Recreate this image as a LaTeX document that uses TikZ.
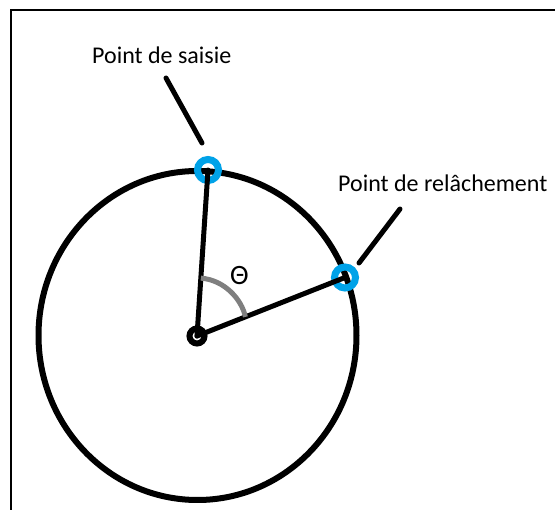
\documentclass[tikz,border=0pt]{standalone}
\usepackage{fontspec}
\setmainfont{Carlito}
\usepackage{tikz}
\usetikzlibrary{calc}
\definecolor{paintblue}{RGB}{0,162,232}
\definecolor{arcgray}{RGB}{127,127,127}

\begin{document}
\begin{tikzpicture}[
    x=1pt, y=-1pt,
    frame/.style={line width=2.5pt},
    wheel/.style={line width=6pt},
    arm/.style={line width=5pt, line cap=round},
    pointer/.style={line width=5pt, line cap=round},
    marker/.style={draw=paintblue, line width=7pt},
    anglearc/.style={draw=arcgray, line width=5pt},
    lbl/.style={inner sep=0pt, font=\fontsize{24}{29}\selectfont}
]
    \useasboundingbox (0,0) rectangle (555,510);
    \draw[frame] (11,510) -- (11,10) -- (555,10);

    \coordinate (centre) at (197,336);
    \coordinate (grab) at (208,170);
    \coordinate (release) at (345,277.5);

    \draw[wheel] (197.5,335.5) ellipse [x radius=159pt, y radius=164.5pt];
    \draw[marker] (grab) circle [radius=10.5pt];
    \draw[marker] (release) circle [radius=10.5pt];
    \draw[arm] (centre) -- (grab);
    \draw[arm] (centre) -- (release);
    \draw[line width=6pt] (centre) circle [radius=7.5pt];

    % angle between the two arms
    \coordinate (arcstart) at ($(centre)!58pt!(grab)$);
    \coordinate (arcend) at ($(centre)!52pt!(release)$);
    \draw[anglearc] (arcstart) .. controls (225,280) and (242,300) .. (arcend);
    \node[lbl, font=\fontsize{28}{32}\selectfont] (theta) at (239.5,276) {Θ};

    \node[lbl, anchor=base west] (grablbl) at (92,64) {Point de saisie};
    \node[lbl, anchor=base west] (releaselbl) at (338,192) {Point de relâchement};
    \coordinate (grabtail) at (166,78);
    \coordinate (grabhead) at (202,143);
    \coordinate (releasetail) at (400,209);
    \coordinate (releasehead) at (359,263);
    \draw[pointer] (grabtail) -- (grabhead);
    \draw[pointer] (releasetail) -- (releasehead);
\end{tikzpicture}
\end{document}
